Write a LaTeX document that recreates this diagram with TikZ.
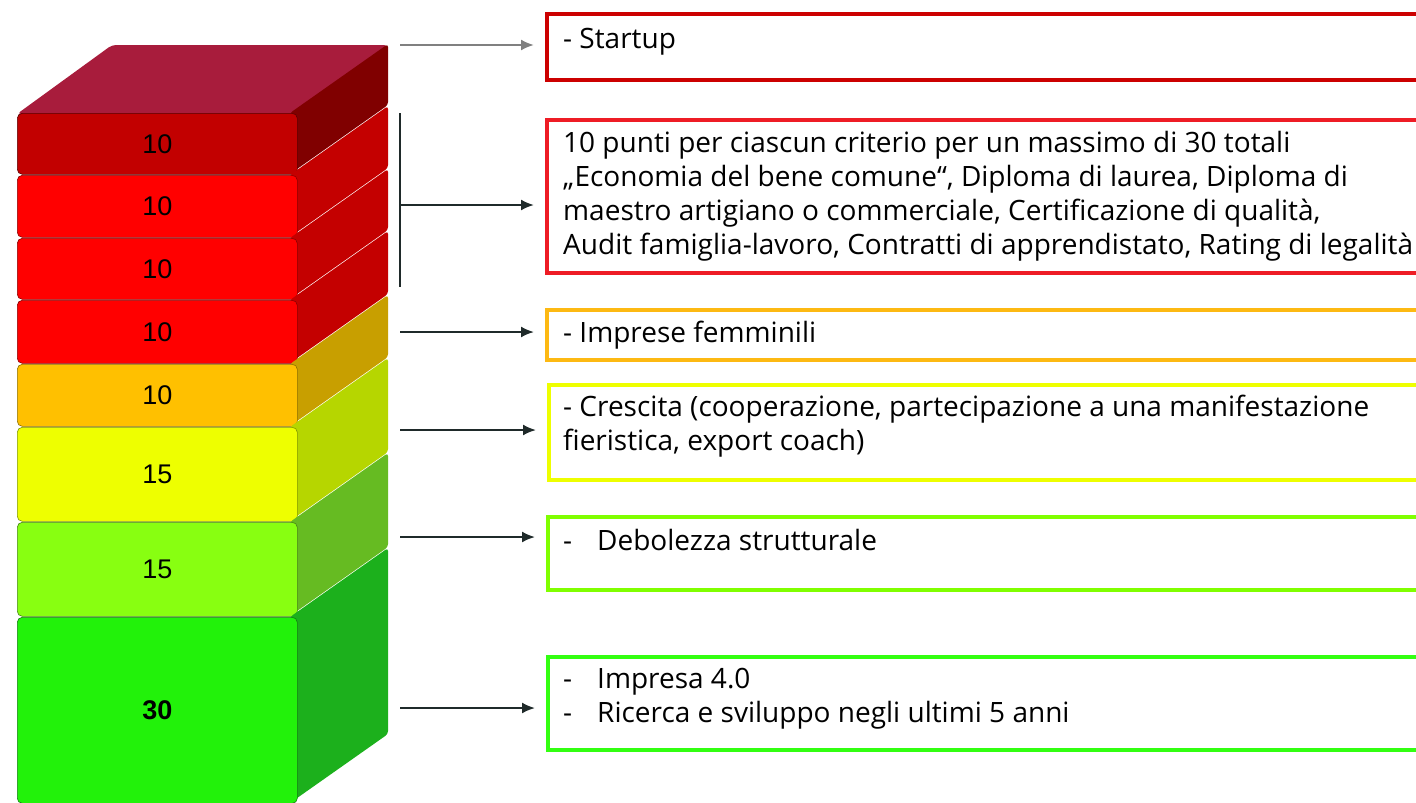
\documentclass[tikz,border=0pt]{standalone}
\usepackage{fontspec}
\setmainfont{Open Sans}
\newfontfamily\numfont{Liberation Sans}
\usetikzlibrary{positioning,arrows.meta}
\definecolor{topred}{HTML}{A81C3C}
\definecolor{darkF}{HTML}{C20000}\definecolor{darkS}{HTML}{800000}
\definecolor{redF}{HTML}{FF0000}\definecolor{redS}{HTML}{C40000}
\definecolor{orF}{HTML}{FFC000}\definecolor{orS}{HTML}{C89F00}
\definecolor{yeF}{HTML}{EEFF00}\definecolor{yeS}{HTML}{B6D600}
\definecolor{lgF}{HTML}{88FF11}\definecolor{lgS}{HTML}{66BB22}
\definecolor{grF}{HTML}{22F20A}\definecolor{grS}{HTML}{1CB01C}
\definecolor{arrdark}{HTML}{1F2A2A}
\begin{document}
\begin{tikzpicture}[x=1pt,y=-1pt,
  layer/.style={anchor=north west,minimum width=280pt,rounded corners=5pt,inner sep=0pt,font=\numfont\fontsize{27}{27}\selectfont},
  box/.style={draw,line width=3.5pt,anchor=north west,minimum width=1000pt,inner sep=0pt},
  txt/.style={anchor=base west,align=left,inner sep=0pt,font=\fontsize{28}{34}\selectfont},
  arr/.style={-{Latex[length=13pt,width=11pt]},line width=2pt,draw=arrdark,fill=arrdark,shorten >=11pt}]
\useasboundingbox (0,0) rectangle (1416,803);
\clip (0,0) rectangle (1416,803);
% the stack
\fill[topred,rounded corners=4pt] (17,114) -- (297,114) -- (388,45) -- (112,45) -- cycle;
\foreach \i/\yt/\yb/\fc/\sc/\v in {1/113/174/darkF/darkS/10, 2/175/237/redF/redS/10, 3/238/299/redF/redS/10,
  4/300/363/redF/redS/10, 5/364/426/orF/orS/10, 6/427/521/yeF/yeS/15, 7/522/616/lgF/lgS/15, 8/617/803/grF/grS/\textbf{30}}{
  \fill[\sc,rounded corners=3pt] (290,\yt) -- (388,\yt-69) -- (388,\yb-69) -- (290,\yb) -- cycle;
  \node[layer,fill=\fc,draw=\sc!70!black,line width=.6pt,minimum height={(\yb-\yt)*1pt}] (l\i) at (17,\yt) {\v};
}
% the boxes (last line of each text sits on the given base)
\node[box,draw=red!80!black,minimum height=66pt] (b1) at (545,12) {};
\node[box,draw={rgb,255:red,238;green,28;blue,37},minimum height=153pt] (b2) at (545,118) {};
\node[box,draw={rgb,255:red,253;green,185;blue,19},minimum height=50pt] (b3) at (545,308) {};
\node[box,draw={rgb,255:red,238;green,255;blue,0},minimum height=95pt] (b4) at (547,383) {};
\node[box,draw={rgb,255:red,128;green,255;blue,0},minimum height=73pt] (b5) at (546,515) {};
\node[box,draw={rgb,255:red,51;green,255;blue,17},minimum height=93pt] (b6) at (546,655) {};
\node[txt] (t1) at (563,48) {- Startup};
\node[txt] (t2) at (563,254) {10 punti per ciascun criterio per un massimo di 30 totali\\
  „Economia del bene comune“, Diploma di laurea, Diploma di\\
  maestro artigiano o commerciale, Certificazione di qualità,\\
  Audit famiglia-lavoro, Contratti di apprendistato, Rating di legalità};
\node[txt] (t3) at (563,342) {- Imprese femminili};
\node[txt] (t4) at (563,450) {- Crescita (cooperazione, partecipazione a una manifestazione\\fieristica, export coach)};
\node[txt] (t5) at (563,550) {\makebox[34pt][l]{-}Debolezza strutturale};
\node[txt] (t6) at (563,722) {\makebox[34pt][l]{-}Impresa 4.0\\\makebox[34pt][l]{-}Ricerca e sviluppo negli ultimi 5 anni};
% bracket and arrows
\draw[arrdark,line width=1.5pt] (400,113) -- (400,287);
\foreach \n/\y in {a1/45, a2/205, a3/332, a4/430, a5/537, a6/708} \coordinate (\n) at (400,\y);
\draw[arr,draw=gray,fill=gray] (a1) -- (a1 -| b1.west);
\foreach \n/\b in {a2/b2, a3/b3, a4/b4, a5/b5, a6/b6} \draw[arr] (\n) -- (\n -| \b.west);
\end{tikzpicture}
\end{document}
